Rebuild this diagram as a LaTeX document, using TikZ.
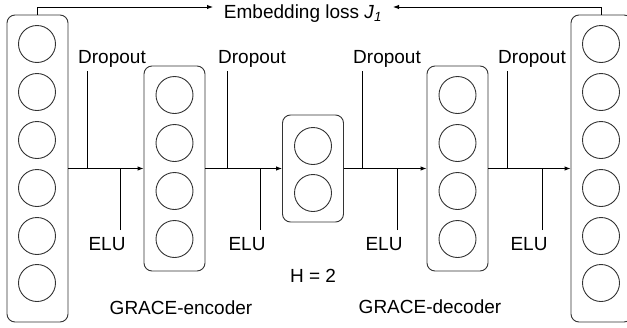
\documentclass[tikz,border=0pt]{standalone}
\usepackage{fontspec}
\setmainfont{Liberation Sans}
\usetikzlibrary{arrows.meta}
\tikzset{
  layer/.style={draw=black!80, rounded corners=8pt, minimum width=61pt, inner sep=0pt},
  unit/.style={circle, draw=black!80, minimum size=37pt, inner sep=0pt},
  arr/.style={-{Latex[length=6pt,width=4.5pt]}},
  lbl/.style={anchor=base, inner sep=0pt, font=\fontsize{19}{23}\selectfont}
}
\begin{document}
\begin{tikzpicture}[x=1pt,y=-1pt,line width=0.9pt]
    \clip (0,0) rectangle (627,327);
    % layers
    \node[layer,minimum height=307pt] (inp) at (37.5,168.5) {};
    \node[layer,minimum height=205pt] (enc) at (174.5,168.5) {};
    \node[layer,minimum height=107pt] (mid) at (313,168.5) {};
    \node[layer,minimum height=205pt] (dec) at (457.5,168.5) {};
    \node[layer,minimum height=307pt] (out) at (601.5,168.5) {};
    \foreach \y [count=\i] in {44,92,140,188,236,283} {
      \node[unit] (inp\i) at (37,\y) {};
      \node[unit] (out\i) at (601,\y) {};
    }
    \foreach \y [count=\i] in {95,143,191,239} {
      \node[unit] (enc\i) at (174.5,\y) {};
      \node[unit] (dec\i) at (457.5,\y) {};
    }
    \node[unit] (mid1) at (313,146) {};
    \node[unit] (mid2) at (313,193) {};
    % forward pass
    \draw[arr] (inp.east) -- (enc.west);
    \draw[arr] (enc.east) -- (mid.west);
    \draw[arr] (mid.east) -- (dec.west);
    \draw[arr] (dec.east) -- (out.west);
    \foreach \d/\e [count=\i] in {87/120,227/260,362/397,507/542} {
      \coordinate (drop\i) at (\d,71);
      \coordinate (elu\i) at (\e,230);
      \draw (drop\i) -- (drop\i |- inp.east);
      \draw (elu\i) -- (elu\i |- inp.east);
      \node[lbl] (droplbl\i) at (\d+25,63) {Dropout};
      \node[lbl] (elulbl\i) at (\e-13,250) {ELU};
    }
    % loss
    \node[lbl] (loss) at (303,18) {Embedding loss \textit{J}\textsubscript{\textit{1}}};
    \coordinate (lossl) at (213,7);
    \coordinate (lossr) at (393,7);
    \draw[arr] (inp.north) |- (lossl);
    \draw[arr] (out.north) |- (lossr);
    \node[lbl] (hdim) at (313,282) {H = 2};
    \node[lbl] (enclbl) at (181,314) {GRACE-encoder};
    \node[lbl] (declbl) at (430,313) {GRACE-decoder};
\end{tikzpicture}
\end{document}
